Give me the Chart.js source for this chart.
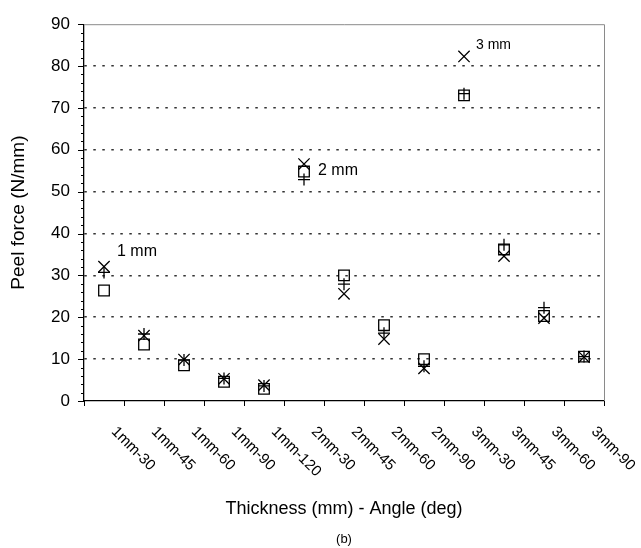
<!DOCTYPE html>
<html>
<head>
<meta charset="utf-8">
<script src="https://cdn.jsdelivr.net/npm/chart.js@4"></script>
<style>
  html, body { margin: 0; padding: 0; background: #fff; }
  #wrap { width: 641px; height: 548px; }
</style>
</head>
<body>
<div id="wrap"><canvas id="peelChart" width="641" height="548"></canvas></div>
<script>
const categories = ['1mm-30', '1mm-45', '1mm-60', '1mm-90', '1mm-120', '2mm-30', '2mm-45',
  '2mm-60', '2mm-90', '3mm-30', '3mm-45', '3mm-60', '3mm-90'];
const squareVals = [26.4, 13.5, 8.5, 4.6, 2.9, 54.8, 30.0, 18.1, 10.0, 73.0, 36.2, 20.3, 10.6];
const plusVals   = [30.7, 16.0, 9.8, 5.4, 3.6, 52.9, 27.9, 16.2, 8.3, 73.4, 37.3, 22.3, 10.6];
const crossVals  = [32.1, 15.6, 9.9, 5.3, 3.8, 56.6, 25.6, 14.8, 7.8, 82.3, 34.6, 19.8, 10.5];
const yTicks = [0, 10, 20, 30, 40, 50, 60, 70, 80, 90];
const notes = [
  { label: '1 mm', cat: 0, value: 32.1, dx: 13, dy: -11, size: 16 },
  { label: '2 mm', cat: 5, value: 56.6, dx: 14, dy: 11, size: 16 },
  { label: '3 mm', cat: 9, value: 82.3, dx: 12, dy: -7, size: 14 }
];

const FONT = 'Arial, "Liberation Sans", sans-serif';

// draws the things Chart.js can't: clockwise labels, tick marks, frame, notes
const extras = {
  id: 'extras',
  afterDraw(chart) {
    const { ctx, chartArea: area, scales: { x, y } } = chart;
    ctx.save();

    // grey frame top & right
    ctx.strokeStyle = '#8a8a8a';
    ctx.lineWidth = 1;
    ctx.beginPath();
    ctx.moveTo(area.left, area.top + 0.5);
    ctx.lineTo(area.right + 0.5, area.top + 0.5);
    ctx.lineTo(area.right + 0.5, area.bottom);
    ctx.stroke();

    // y ticks, major every 10, minor every 2
    ctx.strokeStyle = '#000';
    ctx.lineWidth = 1;
    for (let v = 0; v <= 90; v += 2) {
      const py = Math.round(y.getPixelForValue(v)) + 0.5;
      const len = v % 10 === 0 ? 6 : 3;
      ctx.beginPath();
      ctx.moveTo(area.left - len, py);
      ctx.lineTo(area.left, py);
      ctx.stroke();
    }

    // x ticks at category boundaries
    for (let i = 0; i <= categories.length; i++) {
      const px = Math.round(x.getPixelForValue(i - 0.5)) + 0.5;
      ctx.beginPath();
      ctx.moveTo(px, area.bottom);
      ctx.lineTo(px, area.bottom + 5);
      ctx.stroke();
    }

    // category labels turned 45deg clockwise
    ctx.fillStyle = '#000';
    ctx.font = '15px ' + FONT;
    ctx.textAlign = 'left';
    ctx.textBaseline = 'top';
    categories.forEach((c, i) => {
      ctx.save();
      ctx.translate(x.getPixelForValue(i) + 15, area.bottom + 23);
      ctx.rotate(Math.PI / 4);
      ctx.fillText(c, 0, 0);
      ctx.restore();
    });

    // thickness notes
    ctx.textBaseline = 'alphabetic';
    notes.forEach(n => {
      ctx.font = n.size + 'px ' + FONT;
      ctx.fillText(n.label, x.getPixelForValue(n.cat) + n.dx, y.getPixelForValue(n.value) + n.dy);
    });

    // panel letter
    ctx.font = '13px ' + FONT;
    ctx.textAlign = 'center';
    ctx.textBaseline = 'middle';
    ctx.fillText('(b)', (area.left + area.right) / 2, 539);

    ctx.restore();
  }
};

function series(label, data, style, radius) {
  return {
    label,
    data,
    showLine: false,
    pointStyle: style,
    pointRadius: radius,
    pointHoverRadius: radius,
    pointBorderColor: '#000',
    pointBackgroundColor: 'rgba(0,0,0,0)',
    pointBorderWidth: 1.3
  };
}

new Chart(document.getElementById('peelChart'), {
  type: 'line',
  data: {
    labels: categories,
    datasets: [
      series('square', squareVals, 'rect', 7.5),
      series('plus', plusVals, 'cross', 6),
      series('cross', crossVals, 'crossRot', 8)
    ]
  },
  options: {
    responsive: false,
    animation: false,
    layout: { padding: { top: 11, right: 37, left: 0, bottom: 0 } },
    plugins: { legend: { display: false }, tooltip: { enabled: false } },
    scales: {
      x: {
        type: 'category',
        offset: true,
        grid: { display: false, drawTicks: false },
        border: { color: '#000', width: 1.3 },
        ticks: { display: false },
        title: {
          display: true,
          text: 'Thickness (mm) - Angle (deg)',
          color: '#000',
          font: { family: FONT, size: 18 },
          padding: { top: 0, bottom: 28 }
        },
        afterFit: s => { s.height = 147; }
      },
      y: {
        min: 0,
        max: 90,
        afterBuildTicks: s => { s.ticks = yTicks.map(v => ({ value: v })); },
        grid: {
          drawTicks: false,
          color: c => (c.tick.value === 0 || c.tick.value === 90) ? 'rgba(0,0,0,0)' : '#333',
          lineWidth: 1.6
        },
        // in v4 border.dash styles the grid lines
        border: { color: '#000', width: 1.3, dash: [2.5, 6.5] },
        ticks: { color: '#000', font: { family: FONT, size: 17 }, padding: 14 },
        title: {
          display: true,
          text: 'Peel force (N/mm)',
          color: '#000',
          font: { family: FONT, size: 19 },
          padding: { top: 7, bottom: 0 }
        },
        afterFit: s => { s.width = 84; }
      }
    }
  },
  plugins: [extras]
});
</script>
</body>
</html>
